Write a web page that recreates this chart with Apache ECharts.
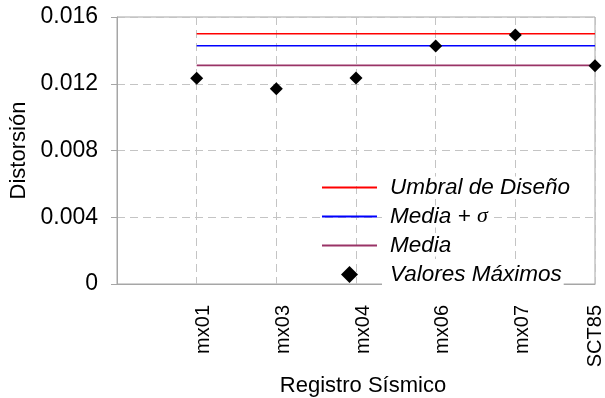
<!DOCTYPE html>
<html>
<head>
<meta charset="utf-8">
<script src="https://cdn.jsdelivr.net/npm/echarts@6/dist/echarts.min.js"></script>
<style>
  html, body { margin: 0; padding: 0; background: #fff; }
  #chart { width: 605px; height: 398px; }
</style>
</head>
<body>
<div id="chart"></div>
<script>
// Seismic records (leading blank slot leaves room at the left of the plot)
const registros = ['', 'mx01', 'mx03', 'mx04', 'mx06', 'mx07', 'SCT85'];
// Peak drift per record
const valoresMaximos = [0.01233, 0.0117, 0.01234, 0.01426, 0.01492, 0.01308];
// Reference levels
const umbralDiseno = 0.015;
const mediaMasSigma = 0.01428;
const media = 0.0131;
// Y axis ticks
const yTicks = [0, 0.004, 0.008, 0.012, 0.016];

const firstRec = registros[1];
const lastRec = registros[registros.length - 1];
const FONT = "'Liberation Sans', Arial, sans-serif";
const gridGray = '#c4c4c4';
const borderGray = '#a6a6a6';
// Legend glyphs: a thin bar for the lines, a square-aspect diamond for the points
const lineIcon = 'path://M0,0L55,0L55,2L0,2Z';
const diamondIcon = 'path://M0,-1L1,0L0,1L-1,0Z';

// The last label sits on the right border, so it is centred on its tick instead of offset
const categoryData = registros.map(function (r, i) {
  return i === registros.length - 1
    ? { value: r, textStyle: { verticalAlign: 'middle', lineHeight: 20 } }
    : r;
});

const chart = echarts.init(document.getElementById('chart'), null, { renderer: 'canvas' });

chart.setOption({
  animation: false,
  backgroundColor: '#fff',
  grid: {
    left: 117, top: 17, right: 10, bottom: 114,
    containLabel: false,
    outerBoundsMode: 'none',
    show: true, borderColor: borderGray, borderWidth: 1, backgroundColor: 'transparent'
  },
  legend: {
    orient: 'vertical',
    left: 322, top: 176,
    padding: 0,
    itemWidth: 55,
    itemHeight: 17,
    itemGap: 6,
    symbolKeepAspect: true,
    data: [
      { name: 'Umbral de Diseño', icon: lineIcon, itemStyle: { color: '#ff0000' } },
      { name: 'Media + σ', icon: lineIcon, itemStyle: { color: '#0000ff' } },
      { name: 'Media', icon: lineIcon, itemStyle: { color: '#993366' } },
      { name: 'Valores Máximos', icon: diamondIcon, itemStyle: { color: '#000' } }
    ],
    formatter: function (name) {
      if (name === 'Media + σ') return 'Media + {s|σ}';
      return name;
    },
    textStyle: {
      fontFamily: FONT, fontSize: 22.5, fontStyle: 'italic', color: '#000',
      lineHeight: 22, backgroundColor: '#fff', padding: [0, 2, 0, 8],
      rich: {
        s: { fontFamily: "'Liberation Serif', 'Times New Roman', serif", fontSize: 22, fontStyle: 'italic', color: '#000', lineHeight: 22 }
      }
    }
  },
  xAxis: {
    type: 'category',
    data: categoryData,
    boundaryGap: false,
    name: 'Registro Sísmico',
    nameLocation: 'middle',
    nameGap: 91,
    nameTextStyle: { fontFamily: FONT, fontSize: 22, color: '#000', padding: [0, 0, 0, 14] },
    axisLine: { show: true, lineStyle: { color: borderGray, width: 1 } },
    axisTick: { show: false },
    axisLabel: {
      interval: 0, rotate: 90, margin: 21,
      fontFamily: FONT, fontSize: 20, color: '#000',
      verticalAlign: 'top', lineHeight: 14
    },
    splitLine: { show: true, lineStyle: { color: gridGray, type: [8, 5], width: 1 } }
  },
  yAxis: {
    type: 'value',
    min: yTicks[0], max: yTicks[yTicks.length - 1], interval: yTicks[1] - yTicks[0],
    name: 'Distorsión',
    nameLocation: 'middle',
    nameRotate: 90,
    nameGap: 81,
    nameTextStyle: { fontFamily: FONT, fontSize: 22, color: '#000' },
    axisLine: { show: true, lineStyle: { color: borderGray, width: 1 } },
    axisTick: { show: true, inside: false, length: 6, lineStyle: { color: borderGray } },
    axisLabel: {
      margin: 19,
      fontFamily: FONT, fontSize: 23, color: '#000',
      formatter: function (v) { return v === 0 ? '0' : v.toFixed(3); }
    },
    splitLine: { show: true, lineStyle: { color: gridGray, type: [8, 5], width: 1 } }
  },
  series: [
    {
      name: 'Umbral de Diseño', type: 'line', symbol: 'none', z: 3,
      lineStyle: { color: '#ff0000', width: 1.6 }, itemStyle: { color: '#ff0000' },
      data: [[firstRec, umbralDiseno], [lastRec, umbralDiseno]]
    },
    {
      name: 'Media + σ', type: 'line', symbol: 'none', z: 3,
      lineStyle: { color: '#0000ff', width: 1.6 }, itemStyle: { color: '#0000ff' },
      data: [[firstRec, mediaMasSigma], [lastRec, mediaMasSigma]]
    },
    {
      name: 'Media', type: 'line', symbol: 'none', z: 3,
      lineStyle: { color: '#993366', width: 1.6 }, itemStyle: { color: '#993366' },
      data: [[firstRec, media], [lastRec, media]]
    },
    {
      name: 'Valores Máximos', type: 'scatter', symbol: 'diamond', symbolSize: 13, z: 4,
      itemStyle: { color: '#000', opacity: 1 },
      data: valoresMaximos.map(function (v, i) { return [registros[i + 1], v]; })
    }
  ]
});
</script>
</body>
</html>
